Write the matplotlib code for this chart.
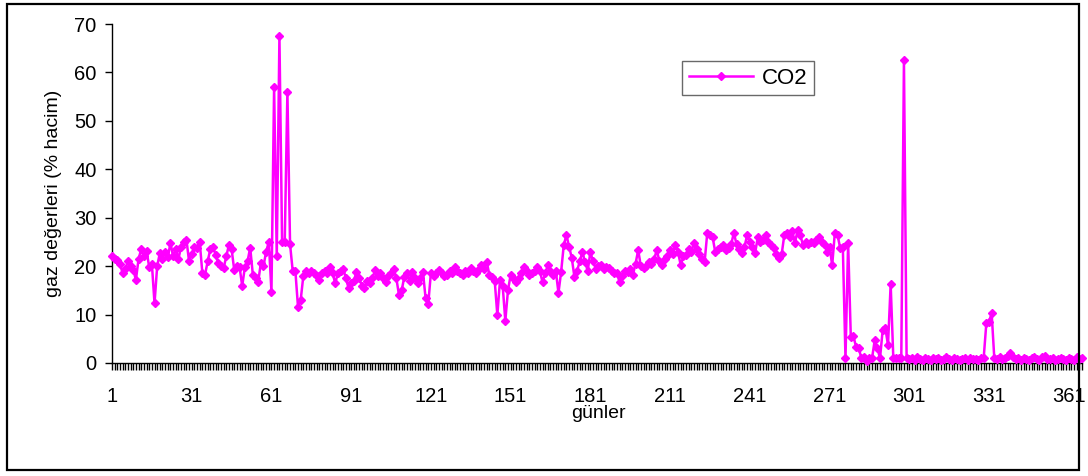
import numpy as np
import matplotlib.pyplot as plt
from matplotlib.patches import Rectangle

plt.rcParams['font.family'] = ['Liberation Sans', 'DejaVu Sans']

# daily CO2 readings (% volume), day 1..366
co2 = [
    22, 21.5, 21.2, 20.5, 18.5, 19.5, 21, 20, 19.2, 17.2,
    21.5, 23.5, 22, 23.2, 19.8, 20.5, 12.3, 20, 22.7, 21.5,
    23, 21.8, 24.8, 22, 23.5, 21.5, 24, 25, 25.5, 21,
    22.5, 24, 23.8, 25, 18.6, 18.2, 21, 23.5, 24, 22.3,
    20.6, 20, 19.6, 22, 24.4, 23.5, 19.2, 20, 19.8, 15.9,
    19.8, 21, 23.8, 18.2, 17.5, 16.7, 20.6, 20, 23, 25,
    14.7, 57, 22, 67.5, 25, 25, 56, 24.5, 19, 19,
    11.5, 13, 18, 19, 18.5, 19, 18.5, 18, 17.2, 18.5,
    19, 18.5, 19.8, 18.5, 16.5, 18.5, 19, 19.5, 17.5, 15.5,
    16.5, 17, 18.8, 17.5, 16, 15.5, 17, 16.5, 17.5, 19.2,
    18, 18.5, 17.5, 16.7, 18, 18.5, 19.5, 17.5, 14, 15,
    17.8, 18.5, 17, 18.8, 17.5, 16.5, 17.5, 18.8, 13.4, 12.2,
    18.6, 18, 18.5, 19.2, 18.5, 18, 18.2, 19, 18.5, 19.8,
    19, 18.5, 18.2, 19, 18.5, 19.6, 19, 18.5, 19.5, 20.2,
    19.5, 20.9, 18.2, 17.8, 17, 9.9, 17.1, 16, 8.7, 15,
    18.2, 17.5, 16.7, 17.5, 18.5, 19.8, 19, 18.2, 18.5, 19,
    19.8, 19, 16.7, 18.5, 20.2, 19, 18.2, 19, 14.5, 18.8,
    24.4, 26.4, 24, 21.7, 17.8, 19, 21, 22.9, 20.9, 19,
    22.9, 21, 19.5, 20, 20.2, 19.5, 19.8, 19.6, 19, 18.5,
    18.5, 16.7, 18, 19, 18.8, 19.5, 18.2, 20.5, 23.3, 20,
    19.6, 20, 20.9, 20.5, 21.5, 23.3, 21, 20.2, 21.5, 22,
    23.3, 22.5, 24.4, 22.9, 20.2, 22, 22.3, 23.5, 23, 24.8,
    23.5, 22.5, 21.5, 20.9, 26.9, 26.5, 26, 22.9, 23.5, 24,
    24.4, 23.3, 23.8, 24.5, 26.9, 24.5, 23.5, 22.7, 24, 26.4,
    25, 24, 22.7, 26, 25, 25.5, 26.4, 25, 24.4, 23.8,
    22.5, 21.7, 22.5, 26.5, 26.9, 26, 27.2, 24.8, 27.5, 26.4,
    24.4, 25, 24.5, 25, 24.8, 25.5, 26, 25, 24.5, 22.9,
    24, 20.2, 26.9, 26.4, 23.8, 24, 1, 24.8, 5.4, 5.5,
    3.3, 3, 1, 1.2, 0.5, 1, 1, 4.7, 3, 1,
    6.8, 7.2, 3.7, 16.3, 1, 1, 1, 1, 62.5, 1,
    0.8, 1, 0.7, 1.2, 0.8, 0.6, 1, 0.9, 0.7, 1.1,
    0.8, 1, 0.6, 0.9, 1.2, 0.8, 0.7, 1, 0.9, 0.6,
    0.8, 1, 0.7, 1.1, 0.8, 0.9, 0.6, 1, 1, 8.2,
    8.5, 10.3, 1, 0.8, 1.2, 0.9, 1, 1.4, 2, 1.2,
    0.8, 1, 0.7, 1.1, 0.9, 0.6, 1, 1.3, 0.8, 0.7,
    1.2, 1.5, 0.9, 0.8, 1, 0.6, 0.9, 1.1, 0.8, 0.7,
    1, 0.9, 0.6, 1.3, 0.8, 1,
]
days = np.arange(1, len(co2) + 1)
label_days = list(range(1, 362, 30))

fig = plt.figure(figsize=(10.88, 4.76), dpi=100)
ax = fig.add_axes([112 / 1088, 1 - 363 / 476, (1082 - 112) / 1088, (363 - 24) / 476])

ax.plot(days, co2, color='#FF00FF', lw=1.8, marker='D', ms=4.2, mew=1,
        mec='#FF00FF', mfc='#FF00FF', label='CO2', clip_on=False, zorder=3)

ax.set_xlim(1, len(co2))
ax.set_ylim(0, 70)
ax.set_yticks(range(0, 71, 10))
ax.set_xticks(label_days)
ax.set_xticks(days, minor=True)
ax.tick_params(axis='x', which='major', direction='out', length=5, width=1,
               pad=12, labelsize=14.5)
ax.tick_params(axis='x', which='minor', direction='out', length=5, width=1)
ax.tick_params(axis='y', direction='out', length=5, width=1, pad=6, labelsize=14.5)

for side in ['top', 'right']:
    ax.spines[side].set_visible(False)
for side in ['left', 'bottom']:
    ax.spines[side].set_linewidth(1)
    ax.spines[side].set_color('black')

ax.set_ylabel('gaz değerleri (% hacim)', fontsize=14, labelpad=9)
fig.text(598 / 1088, 1 - 413 / 476, 'günler', fontsize=14, ha='center', va='center')

leg = ax.legend(loc='upper left', bbox_to_anchor=((682 - 112) / 970, (363 - 61) / 339),
                frameon=True, fancybox=False, fontsize=16, handlelength=2.9,
                borderpad=0.3, handletextpad=0.4, borderaxespad=0)
leg.get_frame().set_edgecolor('#444444')
leg.get_frame().set_linewidth(1)

# outer chart border
fig.patches.append(Rectangle((7 / 1088, 6 / 476), 1072 / 1088, 466 / 476,
                             transform=fig.transFigure, fill=False,
                             edgecolor='black', lw=1.6, zorder=10))

fig.savefig('out.png', dpi=100)
